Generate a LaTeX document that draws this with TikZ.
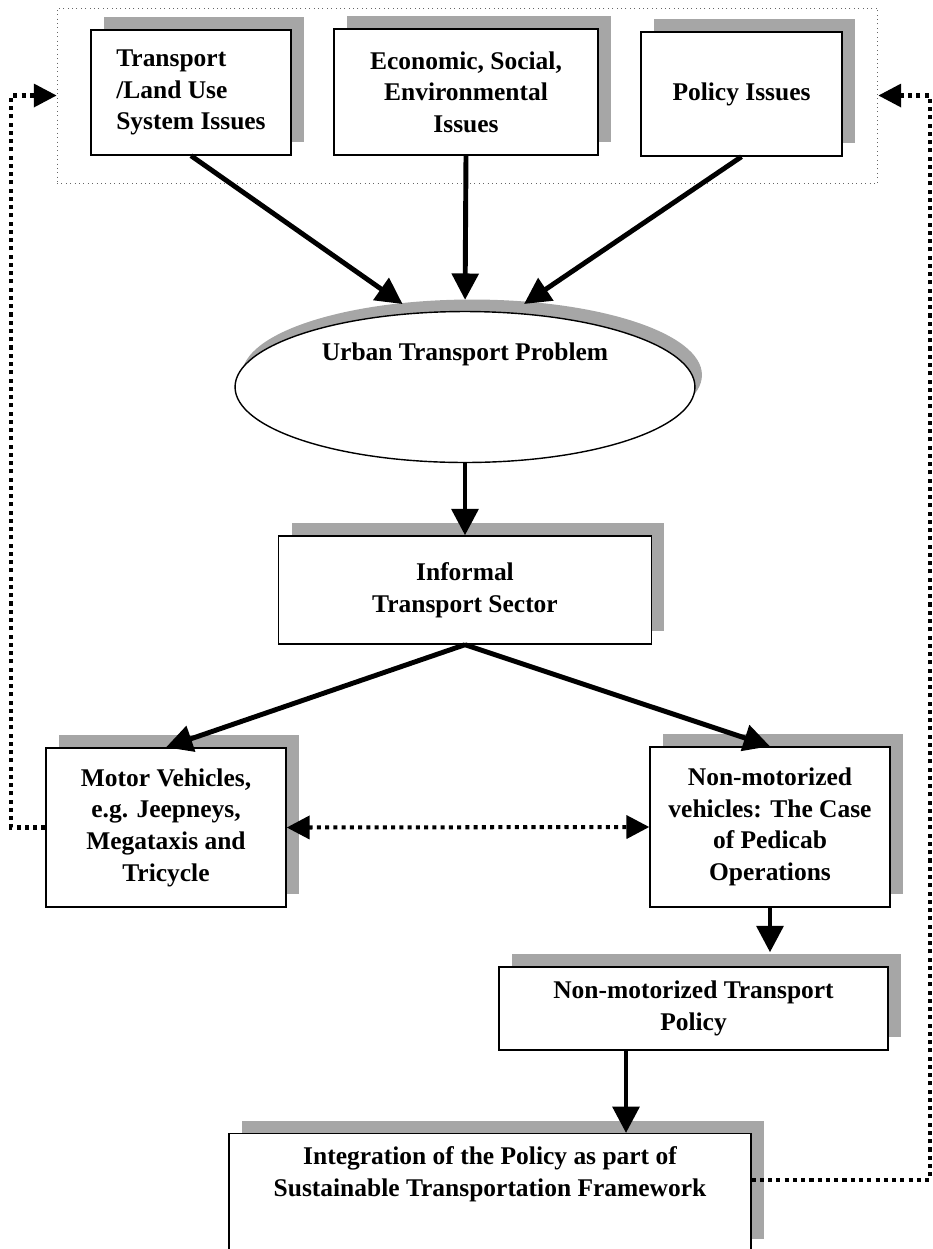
\documentclass[tikz,border=0pt]{standalone}
\usepackage{fontspec}
\setmainfont{Liberation Serif}
\usetikzlibrary{shapes.geometric, arrows.meta, shadows}

\begin{document}
\begin{tikzpicture}[
        x=0.02cm, y=-0.02cm,
        font=\fontsize{14.5}{18}\selectfont\bfseries,
        box/.style={rectangle, draw, line width=0.8pt, fill=white,
            drop shadow={shadow xshift=0.26cm, shadow yshift=0.26cm, fill=black!35, opacity=1}},
        problem/.style={ellipse, draw, line width=0.8pt, fill=white,
            drop shadow={shadow xshift=0.14cm, shadow yshift=0.24cm, fill=black!35, opacity=1}},
        frame/.style={rectangle, draw=black!60, line width=0.5pt, dotted},
        arrow/.style={-{Triangle[length=15pt, width=15pt]}, line width=2.8pt},
        feedback/.style={line width=2.3pt, dash pattern=on 2.3pt off 2.4pt},
        feedtip/.style={-{Triangle[length=13pt, width=13pt]}}
    ]
    \useasboundingbox (0,0) rectangle (933,1249);

    % issues
    \node[frame, minimum width=16.42cm, minimum height=3.5cm] (issues) at (467.5,95.5) {};
    \node[box, minimum width=4cm, minimum height=2.5cm, align=left] (landuse) at (191,92.5) {Transport\\/Land Use\\System Issues};
    \node[box, minimum width=5.28cm, minimum height=2.52cm, align=center] (social) at (466,92) {Economic, Social,\\Environmental\\Issues};
    \node[box, minimum width=4.02cm, minimum height=2.48cm] (policy) at (741.5,94) {Policy Issues};

    \node[problem, minimum width=9.2cm, minimum height=3.02cm, text depth=1.4cm] (urban) at (465,387) {Urban Transport Problem};
    \node[box, minimum width=7.46cm, minimum height=2.16cm, align=center] (informal) at (465,590) {Informal\\Transport Sector};

    \node[box, minimum width=4.8cm, minimum height=3.18cm, align=center] (motor) at (166,827.5) {Motor Vehicles,\\e.g. Jeepneys,\\Megataxis and\\Tricycle};
    \node[box, minimum width=4.8cm, minimum height=3.2cm, align=center] (nonmot) at (770,827) {Non-motorized\\vehicles: The Case\\of Pedicab\\Operations};

    \node[box, minimum width=7.78cm, minimum height=1.66cm, align=center] (nmt) at (693.5,1008.5) {Non-motorized Transport\\Policy};
    \node[box, anchor=north, minimum width=10.44cm, inner ysep=0.26cm, text depth=0.86cm, align=center] (integ) at (490,1133) {Integration of the Policy as part of\\Sustainable Transportation Framework};

    \draw[arrow, shorten >=0.3cm] (landuse.south) -- (urban.124);
    \draw[arrow, shorten >=0.22cm] (social.south) -- (urban.north);
    \draw[arrow, shorten >=0.3cm] (policy.south) -- (urban.58);
    \draw[arrow] (urban) -- (informal);
    \draw[arrow] (informal.south) -- (motor.north);
    \draw[arrow] (informal.south) -- (nonmot.north);
    \draw[arrow, shorten >=0.28cm] (nonmot.south) -- (nonmot.south |- nmt.north);
    \draw[arrow] ([xshift=-1.35cm]nmt.south) -- ([xshift=-1.35cm]nmt.south |- integ.north);

    % feedback loops
    \draw[feedback, feedtip] (motor.west) -- ++(-0.68cm,0) |- (issues.west);
    \draw[feedback, feedtip] ([yshift=-0.94cm]integ.north east) -- ++(3.56cm,0) |- (issues.east);
    \draw[feedback, {Triangle[length=13pt, width=13pt]}-{Triangle[length=13pt, width=13pt]}] (motor.east) -- (nonmot.west);
\end{tikzpicture}
\end{document}
